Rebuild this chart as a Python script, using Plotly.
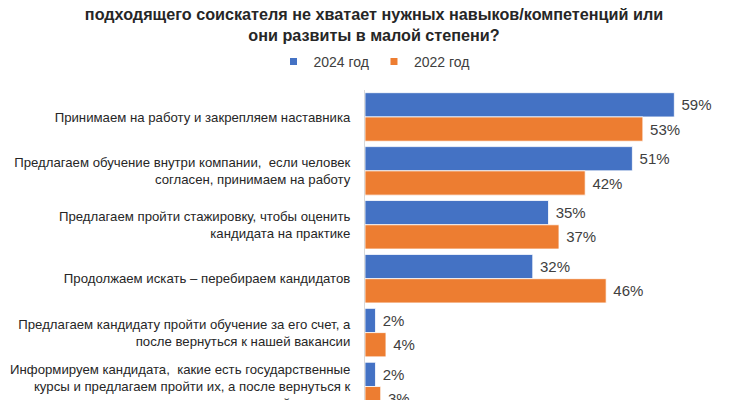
import plotly.graph_objects as go

# categories, top to bottom
categories = [
    "Принимаем на работу и закрепляем наставника",
    "Предлагаем обучение внутри компании,  если человек<br>согласен, принимаем на работу",
    "Предлагаем пройти стажировку, чтобы оценить<br>кандидата на практике",
    "Продолжаем искать – перебираем кандидатов",
    "Предлагаем кандидату пройти обучение за его счет, а<br>после вернуться к нашей вакансии",
    "Информируем кандидата,  какие есть государственные<br>курсы и предлагаем пройти их, а после вернуться к<br>нашей вакансии",
]
values_2024 = [59, 51, 35, 32, 2, 2]
values_2022 = [53, 42, 37, 46, 4, 3]
series_names = ["2024 год", "2022 год"]

title_text = ("подходящего соискателя не хватает нужных навыков/компетенций или<br>"
              "они развиты в малой степени?")

blue = "#4472C4"
orange = "#ED7D31"
txt = "#404040"
font_family = "Liberation Sans, Arial, sans-serif"

# the page puts the figure 8px in from the top-left corner, so size it to fill the rest
off = 8
W, H = 750 - off, 400 - off
ml, mr, mt, mb = 365 - off, 17.5, 89.5 - off, 0

fig = go.Figure()
for name, vals, col in [(series_names[0], values_2024, blue), (series_names[1], values_2022, orange)]:
    fig.add_trace(go.Bar(
        y=categories, x=vals, orientation="h", name=name,
        marker=dict(color=col, line=dict(color="white", width=0.8)),
        text=[" %d%%" % v for v in vals], textposition="outside",
        textfont=dict(size=15, color=txt, family=font_family),
        cliponaxis=False, showlegend=False,
    ))
    # small square legend markers
    fig.add_trace(go.Scatter(
        x=[None], y=[None], mode="markers", name=name,
        marker=dict(symbol="square", size=7, color=col),
    ))

pw = W - ml - mr
def px_to_paper(px):
    return (px - off - ml) / pw

# light frame edges
for px in [1, 748]:
    fig.add_shape(type="line", xref="paper", yref="paper",
                  x0=px_to_paper(px), x1=px_to_paper(px), y0=-0.1, y1=1.4,
                  line=dict(color="#d9d9d9", width=2))

fig.update_layout(
    width=W, height=H,
    margin=dict(l=ml, r=mr, t=mt, b=mb, pad=0, autoexpand=False),
    paper_bgcolor="white", plot_bgcolor="white",
    barmode="group", bargap=0.1, bargroupgap=0,
    font=dict(family=font_family, color=txt, size=13.2),
    title=dict(text="<b>" + title_text + "</b>", x=(374 - off) / W, xref="container", xanchor="center",
               yref="container", y=1 - (20 - off) / H, yanchor="middle",
               font=dict(size=16.2, color="#262626", family=font_family)),
    legend=dict(orientation="h", xref="container", yref="container",
                x=(374 - off) / W, xanchor="center", y=1 - (62 - off) / H, yanchor="middle",
                font=dict(size=14, color=txt), itemwidth=30,
                bgcolor="rgba(0,0,0,0)"),
    xaxis=dict(range=[0, 70], visible=False, showgrid=False, zeroline=False),
    yaxis=dict(type="category", categoryorder="array", categoryarray=categories,
               range=[5.25, -0.5], autorange=False, automargin=False,
               showline=True, linecolor="#d9d9d9", linewidth=1,
               showgrid=False, ticks="", ticklabelstandoff=11,
               tickfont=dict(size=13.2, color="#262626")),
)

fig.write_html("out.html")
